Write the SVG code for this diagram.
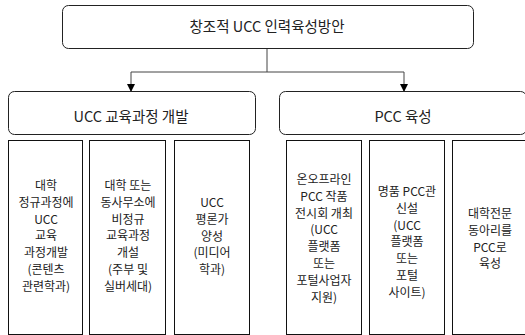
<svg xmlns="http://www.w3.org/2000/svg" width="525" height="335" viewBox="0 0 525 335">
<style>
.rb{fill:#fff;stroke:#222;stroke-width:1}
.bx{fill:#fff;stroke:#111;stroke-width:1}
.t{font-family:"Noto Sans CJK KR","Liberation Sans",sans-serif;fill:#222;text-anchor:middle}
.big{font-size:14.5px}
.sm{font-size:12px}
.c{fill:none;stroke:#444;stroke-width:1}
</style>
<defs>
<marker id="ah" markerWidth="8" markerHeight="8" refX="7" refY="4" orient="auto" markerUnits="userSpaceOnUse">
<path d="M0,0 L8,4 L0,8 Z" fill="#000"/>
</marker>
</defs>
<rect width="525" height="335" fill="#fff"/>
<g id="connectors">
<path class="c" d="M267,48 V72"/>
<path class="c" d="M131,72 H404"/>
<path class="c" d="M131,72 V91" marker-end="url(#ah)"/>
<path class="c" d="M404,72 V91" marker-end="url(#ah)"/>
</g>
<g id="root">
<rect class="rb" x="62.5" y="5.5" width="411" height="43" rx="6"/>
<text class="t big" x="267" y="32">창조적 UCC 인력육성방안</text>
</g>
<g id="ucc">
<rect class="rb" x="8.5" y="91.5" width="247" height="43" rx="6"/>
<text class="t big" x="131" y="122">UCC 교육과정 개발</text>
</g>
<g id="pcc">
<rect class="rb" x="279.5" y="91.5" width="247" height="43" rx="6"/>
<text class="t big" x="403" y="122">PCC 육성</text>
</g>
<g id="u1">
<rect class="bx" x="8.5" y="140.5" width="74" height="194"/>
<text class="t sm" x="46" y="190"><tspan x="46">대학</tspan><tspan x="46" dy="16.8">정규과정에</tspan><tspan x="46" dy="16.8">UCC</tspan><tspan x="46" dy="16.8">교육</tspan><tspan x="46" dy="16.8">과정개발</tspan><tspan x="46" dy="16.8">(콘텐츠</tspan><tspan x="46" dy="16.8">관련학과)</tspan></text>
</g>
<g id="u2">
<rect class="bx" x="89.5" y="140.5" width="76" height="194"/>
<text class="t sm" x="128" y="190"><tspan x="128">대학 또는</tspan><tspan x="128" dy="16.8">동사무소에</tspan><tspan x="128" dy="16.8">비정규</tspan><tspan x="128" dy="16.8">교육과정</tspan><tspan x="128" dy="16.8">개설</tspan><tspan x="128" dy="16.8">(주부 및</tspan><tspan x="128" dy="16.8">실버세대)</tspan></text>
</g>
<g id="u3">
<rect class="bx" x="174.5" y="140.5" width="75" height="194"/>
<text class="t sm" x="212" y="207"><tspan x="212">UCC</tspan><tspan x="212" dy="16.8">평론가</tspan><tspan x="212" dy="16.8">양성</tspan><tspan x="212" dy="16.8">(미디어</tspan><tspan x="212" dy="16.8">학과)</tspan></text>
</g>
<g id="p1">
<rect class="bx" x="286.5" y="140.5" width="75" height="194"/>
<text class="t sm" x="324" y="184"><tspan x="324">온오프라인</tspan><tspan x="324" dy="16.8">PCC 작품</tspan><tspan x="324" dy="16.8">전시회 개최</tspan><tspan x="324" dy="16.8">(UCC</tspan><tspan x="324" dy="16.8">플랫폼</tspan><tspan x="324" dy="16.8">또는</tspan><tspan x="324" dy="16.8">포털사업자</tspan><tspan x="324" dy="16.8">지원)</tspan></text>
</g>
<g id="p2">
<rect class="bx" x="369.5" y="140.5" width="75" height="194"/>
<text class="t sm" x="407" y="196"><tspan x="407">명품 PCC관</tspan><tspan x="407" dy="16.8">신설</tspan><tspan x="407" dy="16.8">(UCC</tspan><tspan x="407" dy="16.8">플랫폼</tspan><tspan x="407" dy="16.8">또는</tspan><tspan x="407" dy="16.8">포털</tspan><tspan x="407" dy="16.8">사이트)</tspan></text>
</g>
<g id="p3">
<rect class="bx" x="452.5" y="140.5" width="75" height="194"/>
<text class="t sm" x="490" y="218"><tspan x="490">대학전문</tspan><tspan x="490" dy="16.8">동아리를</tspan><tspan x="490" dy="16.8">PCC로</tspan><tspan x="490" dy="16.8">육성</tspan></text>
</g>
</svg>
